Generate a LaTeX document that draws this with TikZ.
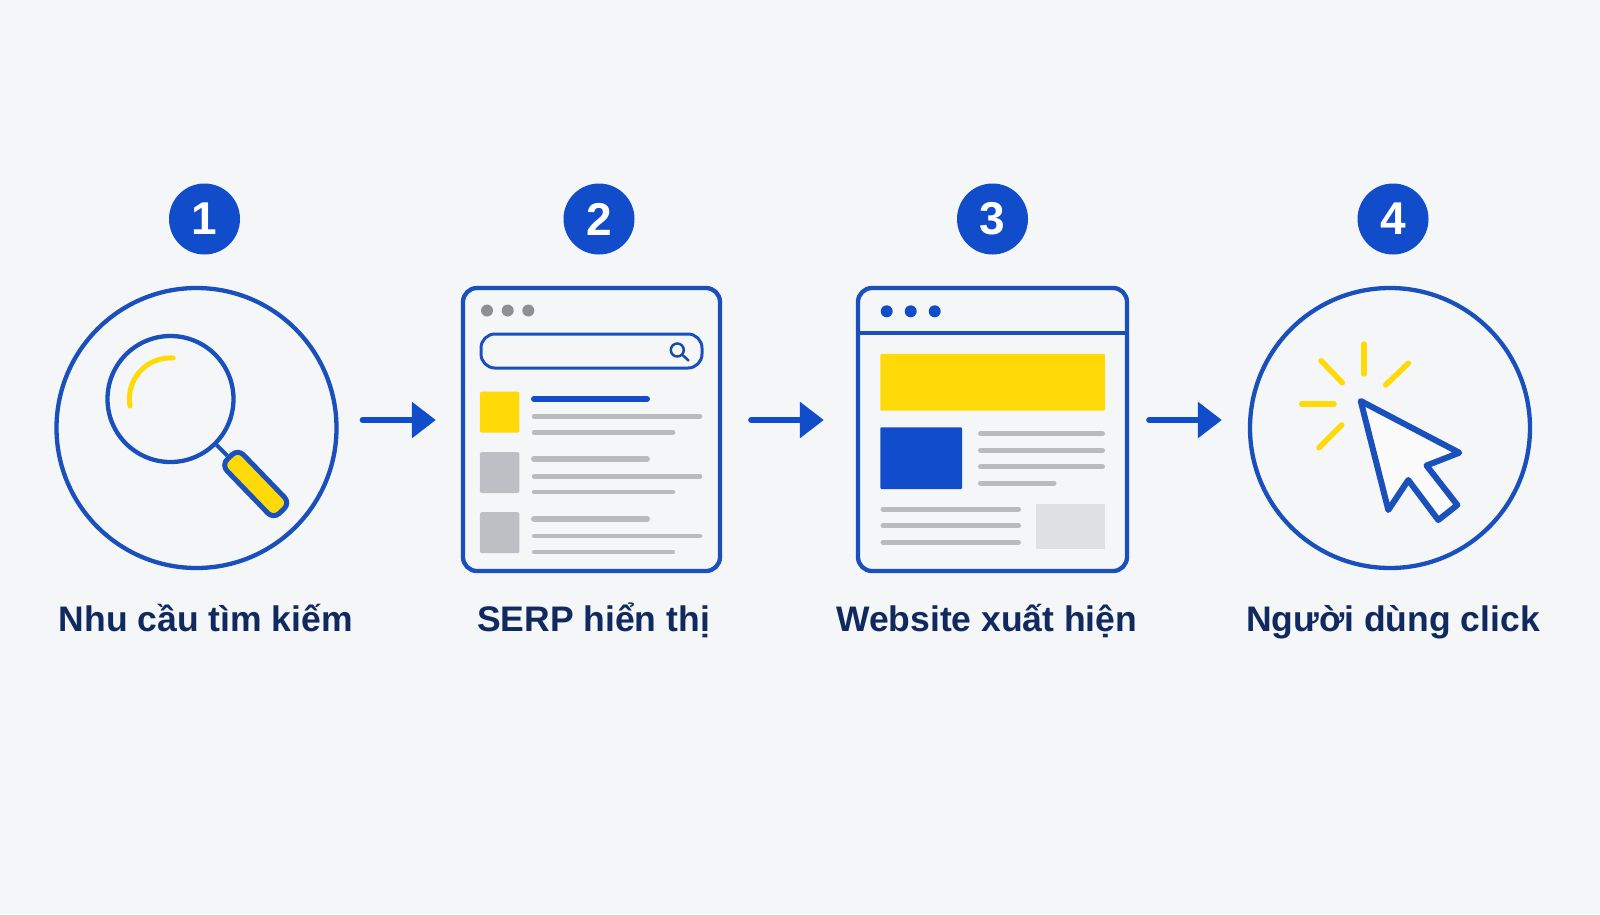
\documentclass[tikz,border=0pt]{standalone}
\usepackage{fontspec}
\setmainfont{Liberation Sans}
\usetikzlibrary{arrows.meta}
\definecolor{bluemain}{HTML}{114DCB}
\definecolor{blueline}{HTML}{1A50BC}
\definecolor{bluedark}{HTML}{1B4C9F}
\definecolor{inkdark}{HTML}{102A60}
\definecolor{yellowmain}{HTML}{FFD908}
\definecolor{paper}{HTML}{F4F6F8}
\definecolor{dotgray}{HTML}{8F9092}
\definecolor{linegray}{HTML}{B9BBBF}
\definecolor{thumbgray}{HTML}{BEBFC4}
\definecolor{palegray}{HTML}{DFE0E3}

\begin{document}
\begin{tikzpicture}[x=1pt,y=-1pt,
 badge/.style={circle,fill=bluemain,text=white,minimum size=71pt,inner sep=0pt,font=\fontsize{46}{46}\selectfont\bfseries},
 ring/.style={circle,draw=blueline,line width=4.3pt,minimum size=280pt,inner sep=0pt},
 panel/.style={draw=blueline,line width=4.3pt,rounded corners=14pt,minimum height=283pt,inner sep=0pt},
 caption/.style={anchor=base,text=inkdark,font=\fontsize{35.5}{40}\selectfont\bfseries,inner sep=0pt},
 flow/.style={-{Triangle[length=24pt,width=35pt]},draw=bluemain,line width=6pt,line cap=round},
 thumb/.style={minimum width=39.5pt,minimum height=41pt,inner sep=0pt,rounded corners=2pt},
 dot/.style={circle,minimum size=12pt,inner sep=0pt},
 bar/.style={draw=linegray,line width=5pt,line cap=round},
 thin bar/.style={draw=linegray,line width=4.5pt,line cap=round},
 spark/.style={draw=yellowmain,line width=5.5pt,line cap=round}]
 \fill[paper] (0,0) rectangle (1600,914);
 \useasboundingbox (0,0) rectangle (1600,914);

 % step numbers
 \node[badge] (b1) at (204.5,219) {1};
 \node[badge] (b2) at (599,219) {2};
 \node[badge] (b3) at (992.5,219) {3};
 \node[badge] (b4) at (1393,219) {4};

 % search
 \node[ring] (search) at (196.5,428) {};
 \node[circle,draw=blueline,line width=4.3pt,minimum size=126pt,inner sep=0pt] (lens) at (170.5,399) {};
 \node[draw=blueline,fill=yellowmain,line width=5pt,rounded corners=8pt,minimum width=75pt,minimum height=23pt,inner sep=0pt,rotate=-46] (grip) at (255.7,484) {};
 \draw[blueline,line width=4pt] (lens) -- (grip);
 \draw[yellowmain,line width=5pt,line cap=round] (130,406) arc[start angle=170,end angle=274,radius=41];

 % serp
 \node[panel,minimum width=257pt] (serp) at (591.5,429.5) {};
 \node[dot,fill=dotgray] (d1) at (487,310.5) {};
 \node[dot,fill=dotgray] (d2) at (507.7,310.5) {};
 \node[dot,fill=dotgray] (d3) at (528.3,310.5) {};
 \node[draw=blueline,line width=3pt,rounded corners=14pt,minimum width=221pt,minimum height=34pt,inner sep=0pt] (query) at (591.5,351) {};
 \node[circle,draw=bluedark,line width=2.5pt,minimum size=13pt,inner sep=0pt] (minilens) at (677.3,350) {};
 \coordinate (minihandle) at (688.5,360.5);
 \draw[bluedark,line width=2.5pt,line cap=round] (minilens) -- (minihandle);
 \node[thumb,fill=yellowmain] (t1) at (499.7,412.2) {};
 \node[thumb,fill=thumbgray] (t2) at (499.7,472.5) {};
 \node[thumb,fill=thumbgray] (t3) at (499.7,532.7) {};
 \draw[bluemain,line width=6pt,line cap=round] (534,399) -- (647,399);
 \draw[thin bar] (534,416.3) -- (700,416.3);
 \draw[thin bar] (534,432.3) -- (673,432.3);
 \draw[linegray,line width=6pt,line cap=round] (534,459) -- (647,459);
 \draw[thin bar] (534,476.3) -- (700,476.3);
 \draw[thin bar] (534,492) -- (673,492);
 \draw[linegray,line width=6pt,line cap=round] (534,519) -- (647,519);
 \draw[thin bar] (534,536) -- (700,536);
 \draw[thin bar] (534,552) -- (673,552);

 % website
 \node[panel,minimum width=269pt] (site) at (992.5,429.5) {};
 \coordinate (topl) at (858,332.7);
 \coordinate (topr) at (1127,332.7);
 \draw[blueline,line width=4.3pt] (topl) -- (topr);
 \node[dot,fill=bluemain] (d4) at (886.7,311.3) {};
 \node[dot,fill=bluemain] (d5) at (910.7,311.3) {};
 \node[dot,fill=bluemain] (d6) at (934.7,311.3) {};
 \node[fill=yellowmain,minimum width=224.7pt,minimum height=56.7pt,inner sep=0pt,rounded corners=1pt] (banner) at (992.7,382.3) {};
 \node[fill=bluemain,minimum width=81.7pt,minimum height=61.7pt,inner sep=0pt,rounded corners=1pt] (hero) at (921.2,458.2) {};
 \node[fill=palegray,minimum width=69pt,minimum height=45pt,inner sep=0pt] (aside) at (1070.5,526.5) {};
 \draw[bar] (980.5,433.7) -- (1102.5,433.7);
 \draw[bar] (980.5,450.3) -- (1102.5,450.3);
 \draw[bar] (980.5,466.7) -- (1102.5,466.7);
 \draw[bar] (980.5,483) -- (1054,483);
 \draw[bar] (883,509.3) -- (1018.5,509.3);
 \draw[bar] (883,525.7) -- (1018.5,525.7);
 \draw[bar] (883,542.3) -- (1018.5,542.3);

 % click
 \node[ring] (click) at (1390,428) {};
 \draw[blueline,fill=white!60!paper,line width=6pt,line join=round]
 (1360.7,401) -- (1459.3,452.7) -- (1426.5,465.5) -- (1457.3,505) -- (1438.3,520)
 -- (1408.3,480) -- (1388.3,510) -- cycle;
 \draw[spark] (1364,344) -- (1364,374);
 \draw[spark] (1408.3,363.3) -- (1385.7,385);
 \draw[spark] (1321,360.7) -- (1342.3,382.7);
 \draw[spark] (1301.7,404) -- (1334,404);
 \draw[spark] (1341.7,425) -- (1319,447.7);

 % arrows
 \draw[flow,shorten <=24pt,shorten >=25pt] ([yshift=8pt]search.east) -- ([yshift=9.5pt]serp.west);
 \draw[flow,shorten <=29pt,shorten >=32pt] ([yshift=9.5pt]serp.east) -- ([yshift=9.5pt]site.west);
 \draw[flow,shorten <=20pt,shorten >=26pt] ([yshift=9.5pt]site.east) -- ([yshift=8pt]click.west);

 % captions
 \node[caption] (c1) at (205.8,631.7) {Nhu cầu tìm kiếm};
 \node[caption] (c2) at (593.5,631.7) {SERP hiển thị};
 \node[caption] (c3) at (986.7,631.7) {Website xuất hiện};
 \node[caption] (c4) at (1393,631.7) {Người dùng click};
\end{tikzpicture}
\end{document}
